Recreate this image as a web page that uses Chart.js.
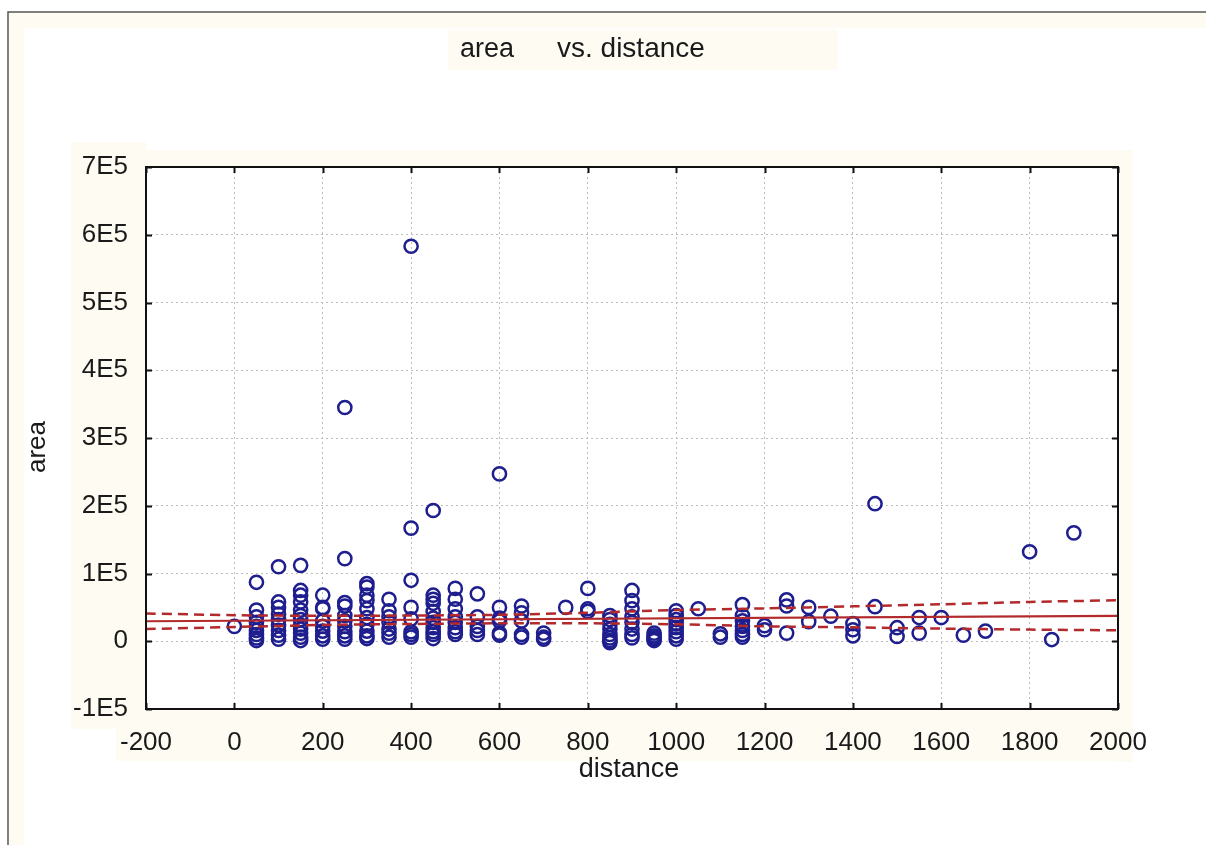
<!DOCTYPE html>
<html><head><meta charset="utf-8">
<script src="https://cdn.jsdelivr.net/npm/chart.js@4.4.1/dist/chart.umd.min.js"></script>
<style>html,body{margin:0;padding:0;background:#fff;overflow:hidden}</style>
</head><body>
<canvas id="c" width="1206" height="845" style="display:block;width:1206px;height:845px"></canvas>
<script>
const titleLeft = 'area';
const titleRight = 'vs. distance';
const xAxisLabel = 'distance';
const yAxisLabel = 'area';
const xTickLabels = ['-200','0','200','400','600','800','1000','1200','1400','1600','1800','2000'];
const yTickLabels = ['-1E5','0','1E5','2E5','3E5','4E5','5E5','6E5','7E5'];

const distance = [
  0,
  50,50,50,50,50,50,50,50,50,
  100,100,100,100,100,100,100,100,100,
  150,150,150,150,150,150,150,150,150,150,150,150,
  200,200,200,200,200,200,200,200,
  250,250,250,250,250,250,250,250,250,250,
  300,300,300,300,300,300,300,300,300,300,
  350,350,350,350,350,350,350,
  400,400,400,400,400,400,400,400,
  450,450,450,450,450,450,450,450,450,450,450,
  500,500,500,500,500,500,500,500,
  550,550,550,550,550,
  600,600,600,600,600,600,
  650,650,650,650,650,
  700,700,700,
  750,
  800,800,800,
  850,850,850,850,850,850,850,850,
  900,900,900,900,900,900,900,900,
  950,950,950,950,950,
  1000,1000,1000,1000,1000,1000,1000,1000,
  1050,
  1100,1100,
  1150,1150,1150,1150,1150,1150,1150,
  1200,1200,
  1250,1250,1250,
  1300,1300,
  1350,
  1400,1400,1400,
  1450,1450,
  1500,1500,
  1550,1550,
  1600,
  1650,
  1700,
  1800,
  1850,
  1900
];
const area = [
  22000,
  87000,46000,36000,28000,22000,16000,10000,5000,1000,
  110000,58000,50000,40000,32000,24000,16000,9000,3000,
  112000,75000,68000,58000,46000,38000,32000,24000,18000,12000,6000,1000,
  68000,50000,48000,30000,22000,15000,8000,3000,
  345000,122000,57000,52000,38000,30000,22000,14000,8000,3000,
  85000,80000,68000,60000,48000,35000,25000,15000,8000,4000,
  62000,45000,36000,28000,18000,12000,6000,
  583000,167000,90000,50000,33000,14000,10000,6000,
  193000,68000,62000,56000,44000,34000,28000,20000,14000,10000,4000,
  78000,62000,48000,36000,28000,20000,14000,10000,
  70000,36000,22000,16000,10000,
  247000,50000,34000,30000,12000,9000,
  52000,42000,30000,10000,6000,
  12000,6000,3000,
  50000,
  78000,48000,44000,
  38000,32000,25000,18000,10000,5000,1000,-2000,
  75000,60000,48000,36000,28000,18000,10000,5000,
  12000,8000,5000,3000,1000,
  45000,38000,32000,26000,20000,14000,8000,3000,
  48000,
  11000,6000,
  54000,38000,30000,22000,16000,10000,6000,
  23000,17000,
  61000,52000,12000,
  50000,29000,
  37000,
  26000,17000,8000,
  203000,51000,
  20000,7000,
  35000,12000,
  35000,
  9000,
  15000,
  132000,
  2500,
  160000
];

const fitX = [-200, 2000];
const fitY = [29500, 37500];
const bandX = [-200, 0, 200, 400, 600, 800, 1000, 1200, 1400, 1600, 1800, 2000];
const bandUpper = [41000, 38500, 37500, 38000, 39000, 42000, 46000, 48500, 51500, 54500, 58000, 60500];
const bandLower = [18000, 21000, 24000, 25500, 26500, 26500, 25000, 22000, 20500, 18700, 17200, 16200];

const FONT = "'Liberation Sans', Arial, sans-serif";
const CREAM = '#fefcf2';
const toXY = (xs, ys) => xs.map((x, i) => ({x: x, y: ys[i]}));

const decor = {
  id: 'decor',
  beforeDraw(chart) {
    const ctx = chart.ctx;
    const a = chart.chartArea;
    ctx.save();
    ctx.fillStyle = '#ffffff';
    ctx.fillRect(0, 0, chart.width, chart.height);
    ctx.fillStyle = CREAM;
    ctx.fillRect(8, 12, chart.width - 8, 16);
    ctx.fillRect(8, 12, 16, chart.height - 12);
    ctx.fillRect(a.left - 16, a.top - 17, a.right - a.left + 31, 17);
    ctx.fillRect(a.right, a.top - 17, 15, a.bottom - a.top + 70);
    ctx.fillRect(a.left - 30, a.bottom, a.right - a.left + 45, 52);
    ctx.fillRect(a.left - 75, a.top - 25, 75, a.bottom - a.top + 45);
    ctx.fillRect(448, 30, 390, 40);
    ctx.strokeStyle = '#555555';
    ctx.lineWidth = 1.5;
    ctx.beginPath();
    ctx.moveTo(8, chart.height);
    ctx.lineTo(8, 12);
    ctx.lineTo(chart.width, 12);
    ctx.stroke();
    ctx.fillStyle = '#ffffff';
    ctx.fillRect(a.left, a.top, a.right - a.left, a.bottom - a.top);
    ctx.restore();
  },
  afterDraw(chart) {
    const ctx = chart.ctx;
    const a = chart.chartArea;
    const xs = chart.scales.x, ys = chart.scales.y;
    ctx.save();
    ctx.strokeStyle = '#111111';
    ctx.lineWidth = 2;
    ctx.strokeRect(a.left, a.top, a.right - a.left, a.bottom - a.top);
    ctx.beginPath();
    xs.ticks.forEach(t => {
      const px = Math.round(xs.getPixelForValue(t.value)) + 0.5;
      ctx.moveTo(px, a.bottom); ctx.lineTo(px, a.bottom - 6);
      ctx.moveTo(px, a.top); ctx.lineTo(px, a.top + 6);
    });
    ys.ticks.forEach(t => {
      const py = Math.round(ys.getPixelForValue(t.value)) + 0.5;
      ctx.moveTo(a.left, py); ctx.lineTo(a.left + 6, py);
      ctx.moveTo(a.right, py); ctx.lineTo(a.right - 6, py);
    });
    ctx.stroke();
    ctx.fillStyle = '#1a1a1a';
    ctx.font = '27px ' + FONT;
    ctx.textBaseline = 'alphabetic';
    ctx.textAlign = 'left';
    ctx.fillText(titleLeft, 460, 57);
    ctx.font = '28px ' + FONT;
    ctx.fillText(titleRight, 557, 57);
    ctx.font = '27px ' + FONT;
    ctx.textAlign = 'center';
    ctx.fillText(xAxisLabel, 629, 777);
    ctx.font = '26px ' + FONT;
    ctx.translate(38, 447);
    ctx.rotate(-Math.PI / 2);
    ctx.textBaseline = 'middle';
    ctx.fillText(yAxisLabel, 0, 0);
    ctx.restore();
  }
};

new Chart(document.getElementById('c'), {
  type: 'scatter',
  data: {
    datasets: [
      { type: 'line', data: toXY(fitX, fitY), borderColor: '#b32a2c', borderWidth: 2.2, pointRadius: 0, fill: false, order: 0 },
      { type: 'line', data: toXY(bandX, bandUpper), borderColor: '#b32a2c', borderWidth: 2.5, borderDash: [10, 6], pointRadius: 0, fill: false, tension: 0.3, order: 0 },
      { type: 'line', data: toXY(bandX, bandLower), borderColor: '#b32a2c', borderWidth: 2.5, borderDash: [10, 6], pointRadius: 0, fill: false, tension: 0.3, order: 0 },
      { data: toXY(distance, area), pointStyle: 'circle', pointRadius: 6.6, borderWidth: 2.5, borderColor: '#1e1e8e', backgroundColor: 'rgba(0,0,0,0)', order: 1 }
    ]
  },
  options: {
    responsive: false,
    animation: false,
    events: [],
    layout: { padding: { left: 10, right: 88, top: 167, bottom: 10 } },
    plugins: { legend: { display: false }, tooltip: { enabled: false }, title: { display: false } },
    scales: {
      x: {
        type: 'linear', min: -200, max: 2000,
        afterFit: s => { s.height = 126; },
        afterBuildTicks: s => { s.ticks = xTickLabels.map(l => ({ value: Number(l) })); },
        ticks: { stepSize: 200, padding: 18, color: '#1a1a1a', font: { family: FONT, size: 26 },
                 callback: (v, i) => xTickLabels[i], maxRotation: 0, autoSkip: false },
        grid: { color: '#bdbdbd', lineWidth: 1, drawTicks: false },
        border: { display: false, dash: [2, 3] }
      },
      y: {
        type: 'linear', min: -100000, max: 700000,
        afterFit: s => { s.width = 136; },
        afterBuildTicks: s => { s.ticks = yTickLabels.map((l, i) => ({ value: (i - 1) * 100000 })); },
        ticks: { stepSize: 100000, padding: 18, color: '#1a1a1a', font: { family: FONT, size: 26 },
                 callback: (v, i) => yTickLabels[i], autoSkip: false },
        grid: { color: '#bdbdbd', lineWidth: 1, drawTicks: false },
        border: { display: false, dash: [2, 3] }
      }
    }
  },
  plugins: [decor]
});
</script>
</body></html>
